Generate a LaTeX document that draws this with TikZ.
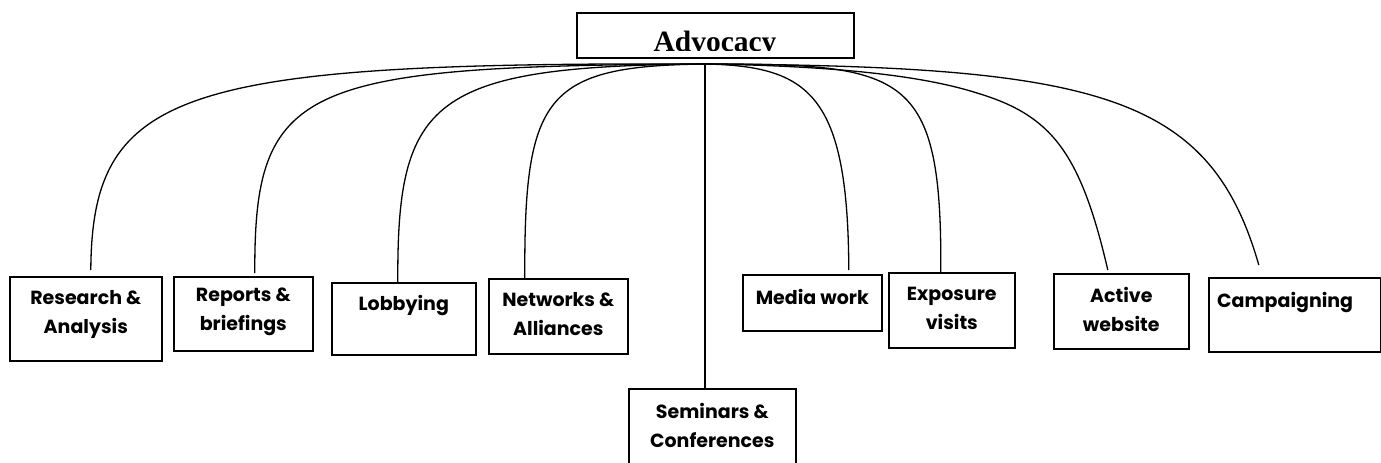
\documentclass[tikz,border=0pt]{standalone}
\usepackage{fontspec}
\newfontfamily\boxfont{Poppins}
\newfontfamily\advfont{Liberation Serif}
\begin{document}
\begin{tikzpicture}[x=1pt,y=-1pt,
  box/.style={draw=black, line width=1.6pt, rectangle, inner sep=0pt, anchor=north west},
  lbl/.style={inner sep=0pt, align=center, anchor=north, font=\boxfont\bfseries\fontsize{19}{29}\selectfont},
  conn/.style={draw=black, line width=1.3pt}]
\useasboundingbox (0,0) rectangle (1381,463);
\clip (0,0) rectangle (1381,463);
% boxes
\node[box, minimum width=277pt, minimum height=45pt] (adv) at (576,12) {};
\node[box, minimum width=152pt, minimum height=84pt] (rsch) at (9,276) {};
\node[box, minimum width=139pt, minimum height=74pt] (rep) at (173,276) {};
\node[box, minimum width=144pt, minimum height=72pt] (lob) at (331,282) {};
\node[box, minimum width=139pt, minimum height=75pt] (net) at (488,278) {};
\node[box, minimum width=167pt, minimum height=90pt] (sem) at (628,388) {};
\node[box, minimum width=139pt, minimum height=56pt] (med) at (742,274) {};
\node[box, minimum width=126pt, minimum height=75pt] (exp) at (888,272) {};
\node[box, minimum width=135pt, minimum height=75pt] (act) at (1053,273) {};
\node[box, minimum width=172pt, minimum height=74pt] (cam) at (1208,277) {};
% title text (clipped at the bottom as in the reference)
\begin{scope}
  \clip (577,13) rectangle (852,50);
  \node[inner sep=0pt, anchor=base, font=\advfont\bfseries\fontsize{29.5}{31}\selectfont] (advt) at (715,51.5) {Advocacy};
\end{scope}
% labels
\node[lbl] (rscht) at ([yshift=-14]rsch.north) {Research \&\\Analysis};
\node[lbl] (rept) at ([yshift=-12]rep.north) {Reports \&\\briefings};
\node[lbl] (lobt) at ([yshift=-13]lob.north) {Lobbying};
\node[lbl] (nett) at ([yshift=-14]net.north) {Networks \&\\Alliances};
\node[lbl] (semt) at ([yshift=-15]sem.north) {Seminars \&\\Conferences};
\node[lbl] (medt) at ([yshift=-15]med.north) {Media work};
\node[lbl] (expt) at ([yshift=-15]exp.north) {Exposure\\visits};
\node[lbl] (actt) at ([yshift=-14]act.north) {Active\\website};
\node[lbl, anchor=north west] (camt) at ([xshift=9,yshift=-15]cam.north west) {Campaigning};
% hub
\coordinate (hub) at (705,64);
% connectors
\draw[conn] (hub) .. controls (180,62) and (92,90) .. ([xshift=5,yshift=6]rsch.north);
\draw[conn] (hub) .. controls (300,66) and (254,85) .. ([xshift=11.5,yshift=3]rep.north);
\draw[conn] (hub) .. controls (430,66) and (397,100) .. ([xshift=-6]lob.north);
\draw[conn] (hub) .. controls (545,66) and (524,95) .. ([xshift=-33.5]net.north);
\draw[conn] (hub) -- (hub |- sem.north);
\draw[conn] (hub) .. controls (810,66) and (848,95) .. ([xshift=36.5,yshift=4]med.north);
\draw[conn] (hub) .. controls (905,64) and (942,70) .. ([xshift=-11]exp.north);
\draw[conn] (hub) .. controls (850,66) and (930,78) .. (977,93)
   .. controls (1050,115) and (1080,150) .. ([xshift=-13.5,yshift=3]act.north);
\draw[conn] (hub) .. controls (1100,66) and (1210,95) .. ([xshift=-36,yshift=12]cam.north);
\end{tikzpicture}
\end{document}
